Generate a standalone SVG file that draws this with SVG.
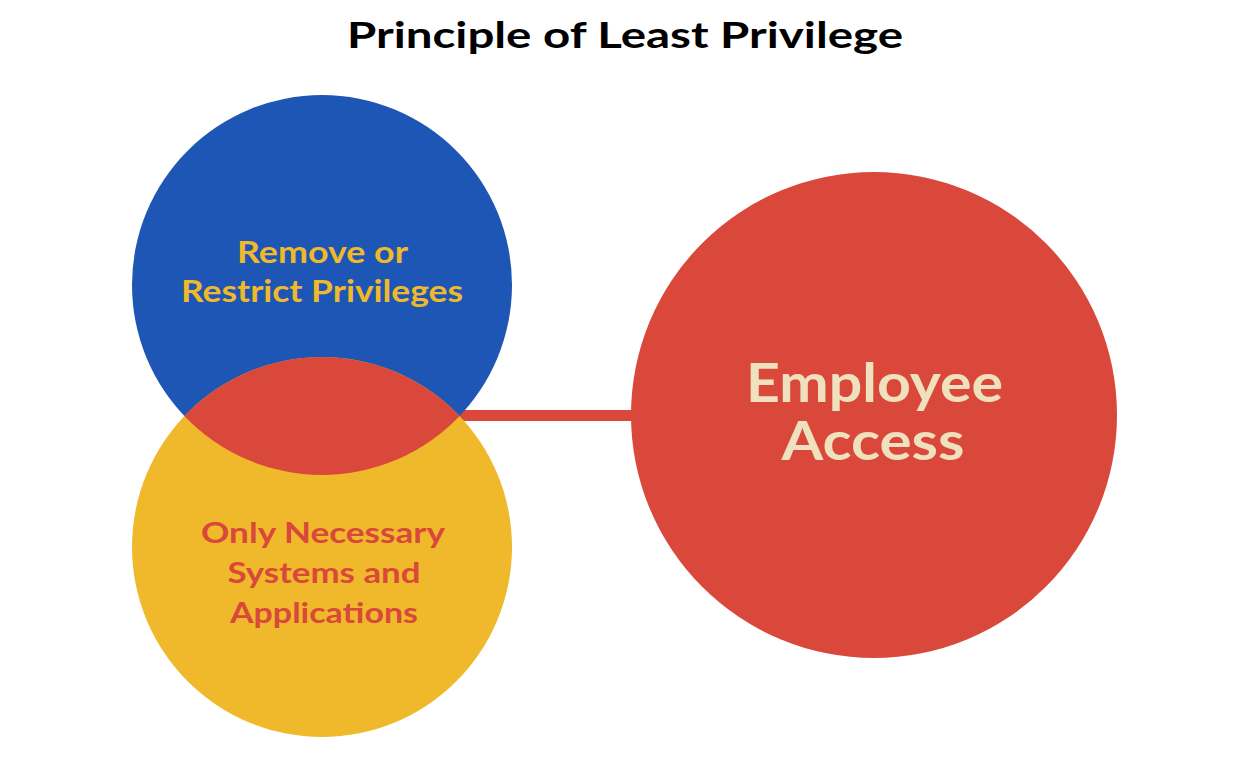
<svg xmlns="http://www.w3.org/2000/svg" width="1249" height="775" viewBox="0 0 1249 775">
<style>
text{font-family:"Lato","Noto Sans","Liberation Sans",sans-serif;font-weight:700;text-anchor:middle}
.title{font-size:36px;fill:#000}
.blue{fill:#1E56B5}
.yellow{fill:#EFB92B}
.red{fill:#D9483A}
.t-blue{font-size:30px;fill:#EFB92B}
.t-yellow{font-size:29px;fill:#D9483A}
.t-red{font-size:53px;fill:#F0E1BE}
</style>
<rect width="1249" height="775" fill="#fff"/>
<text class="title" x="625" y="48" textLength="556" lengthAdjust="spacingAndGlyphs">Principle of Least Privilege</text>
<g id="connectors">
<rect class="red" x="440" y="410" width="195" height="11"/>
</g>
<g id="node-remove">
<circle class="blue" cx="322" cy="285" r="190"/>
</g>
<g id="node-necessary">
<circle class="yellow" cx="322" cy="547" r="190"/>
</g>
<g id="overlap">
<path class="red" d="M184.4 416 A190 190 0 0 1 459.6 416 A190 190 0 0 1 184.4 416 Z"/>
</g>
<g id="node-remove-label">
<text class="t-blue" x="322.5" y="263" textLength="171" lengthAdjust="spacingAndGlyphs">Remove or</text>
<text class="t-blue" x="322" y="302" textLength="282" lengthAdjust="spacingAndGlyphs">Restrict Privileges</text>
</g>
<g id="node-necessary-label">
<text class="t-yellow" x="323" y="543" textLength="244" lengthAdjust="spacingAndGlyphs">Only Necessary</text>
<text class="t-yellow" x="324" y="583" textLength="193" lengthAdjust="spacingAndGlyphs">Systems and</text>
<text class="t-yellow" x="324" y="623" textLength="188" lengthAdjust="spacingAndGlyphs">Applications</text>
</g>
<g id="node-employee">
<circle class="red" cx="874" cy="415" r="243"/>
<text class="t-red" x="874.5" y="402" textLength="257" lengthAdjust="spacingAndGlyphs">Employee</text>
<text class="t-red" x="873" y="460" textLength="183" lengthAdjust="spacingAndGlyphs">Access</text>
</g>
</svg>
